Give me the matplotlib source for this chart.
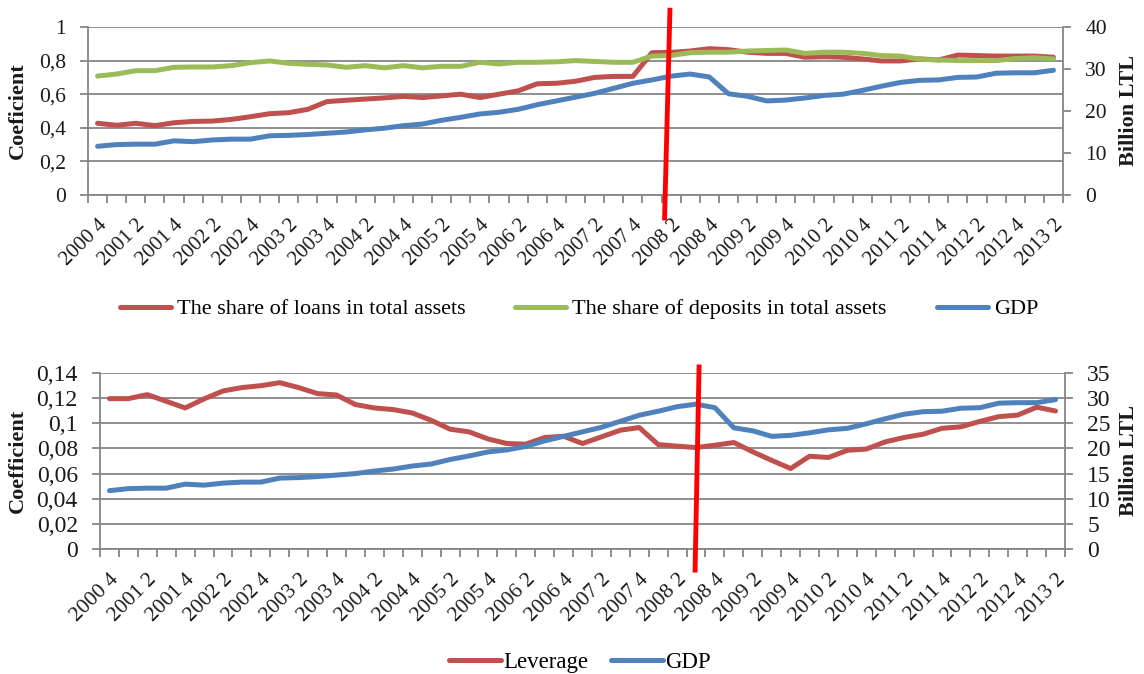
import numpy as np
import matplotlib.pyplot as plt
from matplotlib.transforms import ScaledTranslation

plt.rcParams['font.family'] = ['Liberation Serif', 'DejaVu Serif']

# quarterly data, 2000 Q4 .. 2013 Q2 (51 quarters)
tick_labels = ['2000 4', '2001 2', '2001 4', '2002 2', '2002 4', '2003 2', '2003 4',
               '2004 2', '2004 4', '2005 2', '2005 4', '2006 2', '2006 4', '2007 2',
               '2007 4', '2008 2', '2008 4', '2009 2', '2009 4', '2010 2', '2010 4',
               '2011 2', '2011 4', '2012 2', '2012 4', '2013 2']

loans = [0.427, 0.415, 0.427, 0.413, 0.430, 0.438, 0.440, 0.450, 0.466, 0.484,
         0.490, 0.510, 0.556, 0.564, 0.571, 0.578, 0.587, 0.580, 0.590, 0.600,
         0.580, 0.600, 0.620, 0.662, 0.665, 0.677, 0.700, 0.706, 0.706, 0.847,
         0.849, 0.857, 0.871, 0.865, 0.850, 0.843, 0.843, 0.820, 0.823, 0.820,
         0.810, 0.798, 0.798, 0.810, 0.804, 0.833, 0.830, 0.827, 0.827, 0.827,
         0.820]

deposits = [0.708, 0.720, 0.740, 0.740, 0.760, 0.762, 0.762, 0.770, 0.788, 0.798,
            0.784, 0.778, 0.774, 0.760, 0.770, 0.757, 0.770, 0.757, 0.766, 0.766,
            0.790, 0.780, 0.790, 0.790, 0.793, 0.800, 0.795, 0.790, 0.790, 0.827,
            0.830, 0.847, 0.850, 0.850, 0.857, 0.860, 0.863, 0.843, 0.850, 0.850,
            0.843, 0.830, 0.827, 0.808, 0.804, 0.800, 0.800, 0.800, 0.812, 0.817,
            0.810]

gdp = [11.6, 12.0, 12.1, 12.1, 12.9, 12.7, 13.1, 13.3, 13.3, 14.1,
       14.2, 14.4, 14.7, 15.0, 15.5, 15.9, 16.5, 16.9, 17.8, 18.5,
       19.3, 19.7, 20.4, 21.5, 22.4, 23.3, 24.2, 25.4, 26.6, 27.4,
       28.3, 28.8, 28.1, 24.1, 23.5, 22.4, 22.6, 23.1, 23.7, 24.0,
       24.9, 25.9, 26.8, 27.3, 27.4, 28.0, 28.1, 29.0, 29.1, 29.1,
       29.7]

leverage = [0.1196, 0.1196, 0.1228, 0.1175, 0.1122, 0.1194, 0.1257, 0.1284, 0.1299, 0.1323,
            0.1284, 0.1236, 0.1225, 0.1149, 0.1122, 0.1109, 0.1082, 0.1024, 0.0953, 0.0932,
            0.0876, 0.0839, 0.0834, 0.0887, 0.0897, 0.0839, 0.0892, 0.0945, 0.0966, 0.0831,
            0.0818, 0.0807, 0.0826, 0.0847, 0.0773, 0.0705, 0.0640, 0.0738, 0.0728, 0.0785,
            0.0795, 0.0852, 0.0887, 0.0913, 0.0960, 0.0972, 0.1015, 0.1053, 0.1065, 0.1128,
            0.1098]

# hand drawn red marker (category position at top / bottom end, value at ends)
marker_top_x = [29.94, 29.66]
marker_top_y = [44.0, -5.5]
marker_bot_x = [31.16, 30.95]
marker_bot_y = [36.2, -4.2]

RED = '#C0504D'
GREEN = '#9BBB59'
BLUE = '#4F81BD'
GRAY = '#868686'
TXT = '#1a1a1a'
LW = 3.6

x = np.arange(len(gdp))


def comma(v):
    s = f'{v:.2f}'.rstrip('0').rstrip('.')
    return s.replace('.', ',')


def style_panel(ax, axr, yticks, rticks, lab_left, lab_size, ylab_size, lx, rx):
    ax.set_xlim(-0.5, len(x) - 0.5)
    ax.set_xticks(x[::2])
    ax.set_xticklabels(tick_labels, rotation=45, ha='right', va='top',
                       rotation_mode='anchor', fontsize=lab_size, color=TXT)
    off = ScaledTranslation(0.05, 0, ax.figure.dpi_scale_trans)
    for t in ax.get_xticklabels():
        t.set_transform(t.get_transform() + off)
    ax.set_xticks(np.arange(-0.5, len(x), 1), minor=True)
    ax.tick_params(axis='x', which='major', length=0, pad=15)
    ax.tick_params(axis='x', which='minor', length=6, width=1.3, color=GRAY)

    ax.set_ylim(yticks[0], yticks[-1])
    ax.set_yticks(yticks)
    ax.set_yticklabels([comma(v) for v in yticks], fontsize=ylab_size, color=TXT)
    ax.tick_params(axis='y', length=6, width=1.3, color=GRAY, pad=10)
    ax.yaxis.grid(True, color=GRAY, lw=1.3)
    ax.set_axisbelow(True)
    for s in ['top', 'right']:
        ax.spines[s].set_visible(False)
    for s in ['left', 'bottom']:
        ax.spines[s].set_color(GRAY)
        ax.spines[s].set_linewidth(1.3)
    ax.set_ylabel(lab_left, fontsize=16, fontweight='bold', color=TXT)
    ax.yaxis.set_label_coords(lx, 0.5)

    axr.set_ylim(rticks[0], rticks[-1])
    axr.set_yticks(rticks)
    axr.set_yticklabels([str(v) for v in rticks], fontsize=ylab_size, color=TXT)
    axr.tick_params(axis='y', length=6, width=1.3, color=GRAY, pad=10)
    for s in ['top', 'left', 'bottom']:
        axr.spines[s].set_visible(False)
    axr.spines['right'].set_color(GRAY)
    axr.spines['right'].set_linewidth(1.3)
    axr.set_ylabel('Billion LTL', fontsize=16, fontweight='bold', color=TXT)
    axr.yaxis.set_label_coords(rx, 0.5)


fig = plt.figure(figsize=(11.44, 6.74), dpi=100)

# top panel
ax1 = fig.add_axes([88 / 1144, 1 - 195 / 674, 975 / 1144, 168 / 674])
ax1r = ax1.twinx()
l1, = ax1.plot(x, loans, color=RED, lw=LW, solid_capstyle='round',
               label='The share of loans in total assets')
l2, = ax1.plot(x, deposits, color=GREEN, lw=LW, solid_capstyle='round',
               label='The share of deposits in total assets')
l3, = ax1r.plot(x, gdp, color=BLUE, lw=LW, solid_capstyle='round', label='GDP')
ax1r.plot(marker_top_x, marker_top_y, color='#FF0000', lw=3.5, clip_on=False, zorder=10)
style_panel(ax1, ax1r, np.round(np.arange(0, 1.01, 0.2), 2), list(range(0, 41, 10)),
            'Coeficient', 15, 15.5, -0.0615, 1.0574)
fig.legend(handles=[l1, l2, l3], loc='center', bbox_to_anchor=(0.506, 1 - 309 / 674),
           ncol=3, frameon=False, fontsize=16, handlelength=2.3, handletextpad=0.27,
           columnspacing=2.25)

# bottom panel
ax2 = fig.add_axes([100 / 1144, 1 - 549 / 674, 965 / 1144, 176 / 674])
ax2r = ax2.twinx()
m1, = ax2.plot(x, leverage, color=RED, lw=LW, solid_capstyle='round', label='Leverage')
m2, = ax2r.plot(x, gdp, color=BLUE, lw=LW, solid_capstyle='round', label='GDP')
ax2r.plot(marker_bot_x, marker_bot_y, color='#FF0000', lw=3.5, clip_on=False, zorder=10)
style_panel(ax2, ax2r, np.round(np.arange(0, 0.141, 0.02), 2), list(range(0, 36, 5)),
            'Coefficient', 15.5, 17, -0.0746, 1.056)
fig.legend(handles=[m1, m2], loc='center', bbox_to_anchor=(0.507, 1 - 662 / 674),
           ncol=2, frameon=False, fontsize=16.5, handlelength=2.27, handletextpad=0.1,
           columnspacing=1.0)

fig.savefig('out.png', dpi=100)
